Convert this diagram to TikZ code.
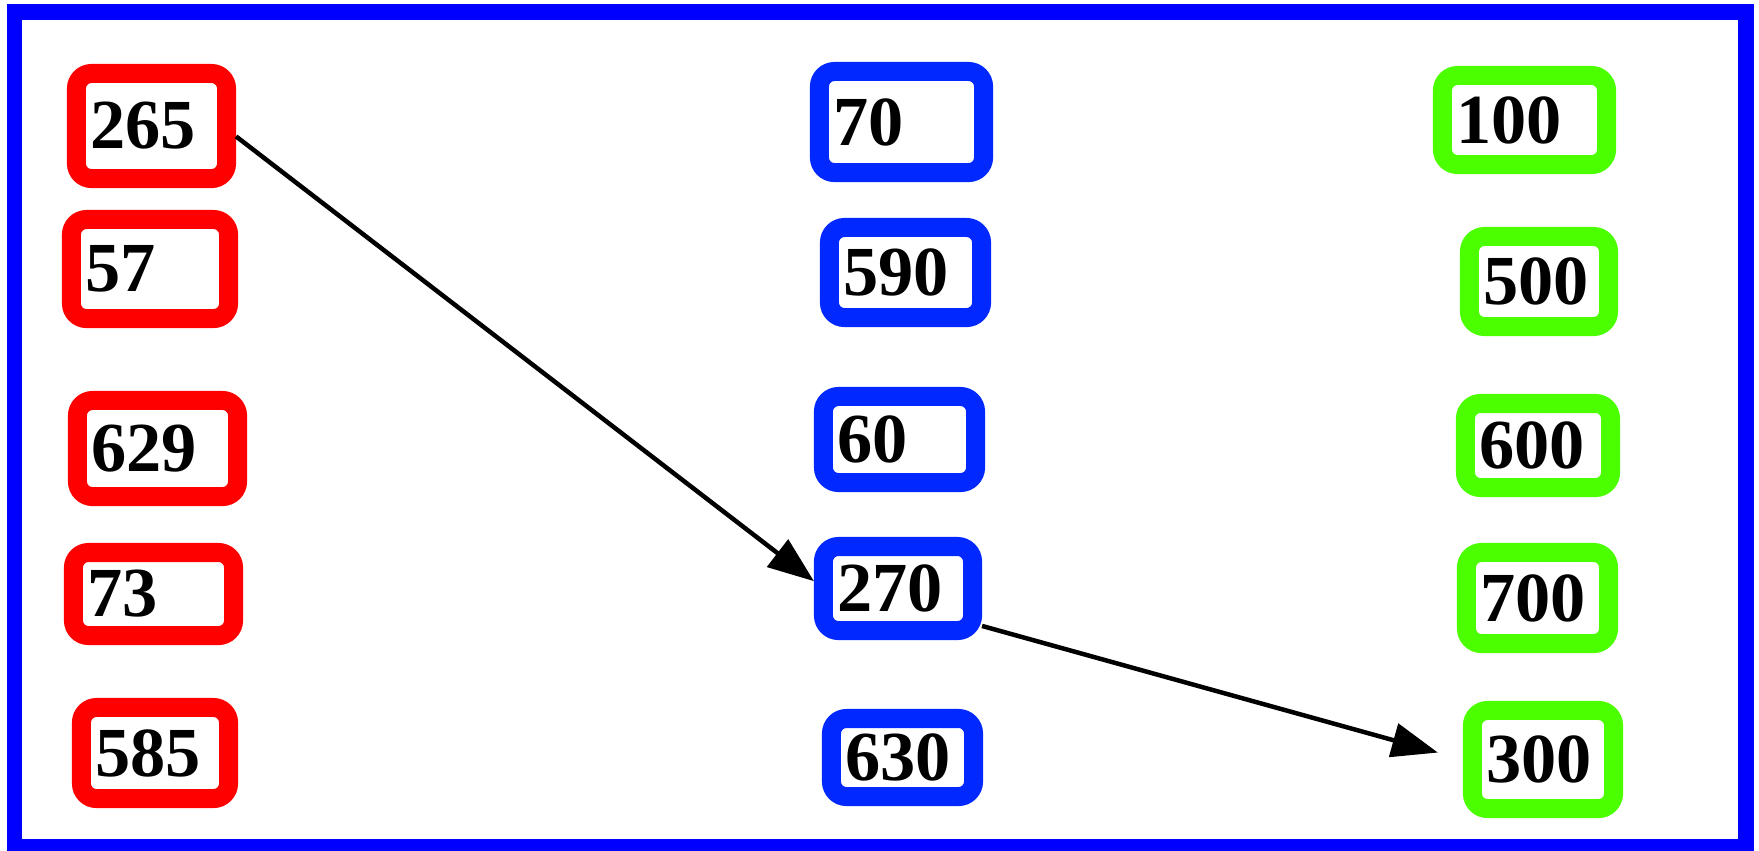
\documentclass[tikz,border=0pt]{standalone}
\usepackage{fontspec}
\setmainfont{Liberation Serif}
\usetikzlibrary{arrows.meta}
\definecolor{khungxanh}{RGB}{0,0,255}
\definecolor{hopdo}{RGB}{255,0,0}
\definecolor{hopxanh}{RGB}{0,40,255}
\definecolor{hopluc}{RGB}{76,255,0}
\begin{document}
\begin{tikzpicture}[x=0.01cm,y=-0.01cm,>={Triangle[length=0.46cm,width=0.34cm]},
		so/.style={draw,fill=white,line width=0.19cm,rounded corners=0.15cm,inner xsep=0.14cm,inner ysep=0pt,align=left,font=\bfseries\fontsize{20}{20}\selectfont},
		do/.style={so,draw=hopdo},
		xanh/.style={so,draw=hopxanh},
		luc/.style={so,draw=hopluc},
		muiten/.style={->,line width=0.045cm,black}]
			\useasboundingbox (0,0) rectangle (1759,850);
			% Khung ngoai
			\draw[khungxanh,line width=0.155cm] (14.5,12) rectangle (1746,847);
			% Cot thu nhat
			\node[do,text width=1.22cm,minimum height=1.05cm] (n265) at (151.5,126) {265};
			\node[do,text width=1.29cm,minimum height=0.99cm] (n57) at (150,269) {57};
			\node[do,text width=1.32cm,minimum height=0.96cm] (n629) at (157.5,448.5) {629};
			\node[do,text width=1.32cm,minimum height=0.83cm] (n73) at (153.5,594) {73};
			\node[do,text width=1.19cm,minimum height=0.91cm] (n585) at (155,753) {585};
			% Cot thu hai
			\node[xanh,text width=1.36cm,minimum height=1.01cm] (n70) at (901.5,122) {70};
			\node[xanh,text width=1.24cm,minimum height=0.90cm] (n590) at (905.5,272.5) {590};
			\node[xanh,text width=1.24cm,minimum height=0.86cm] (n60) at (899.5,439.5) {60};
			\node[xanh,text width=1.21cm,minimum height=0.84cm] (n270) at (898,588.5) {270};
			\node[xanh,text width=1.14cm,minimum height=0.78cm] (n630) at (902.5,757.5) {630};
			% Cot thu ba
			\node[luc,text width=1.36cm,minimum height=0.89cm] (n100) at (1524.5,120) {100};
			\node[luc,text width=1.11cm,minimum height=0.90cm] (n500) at (1539,281.5) {500};
			\node[luc,text width=1.17cm,minimum height=0.84cm] (n600) at (1538,445.5) {600};
			\node[luc,text width=1.14cm,minimum height=0.91cm] (n700) at (1537.5,598) {700};
			\node[luc,text width=1.13cm,minimum height=0.98cm] (n300) at (1543,759.5) {300};
			% Cac mui ten
			\draw[muiten] (n265.-7) -- (n270.175);
			\draw[muiten,shorten >=0.26cm] (n270.-24) -- (n300.west);
		\end{tikzpicture}
\end{document}
